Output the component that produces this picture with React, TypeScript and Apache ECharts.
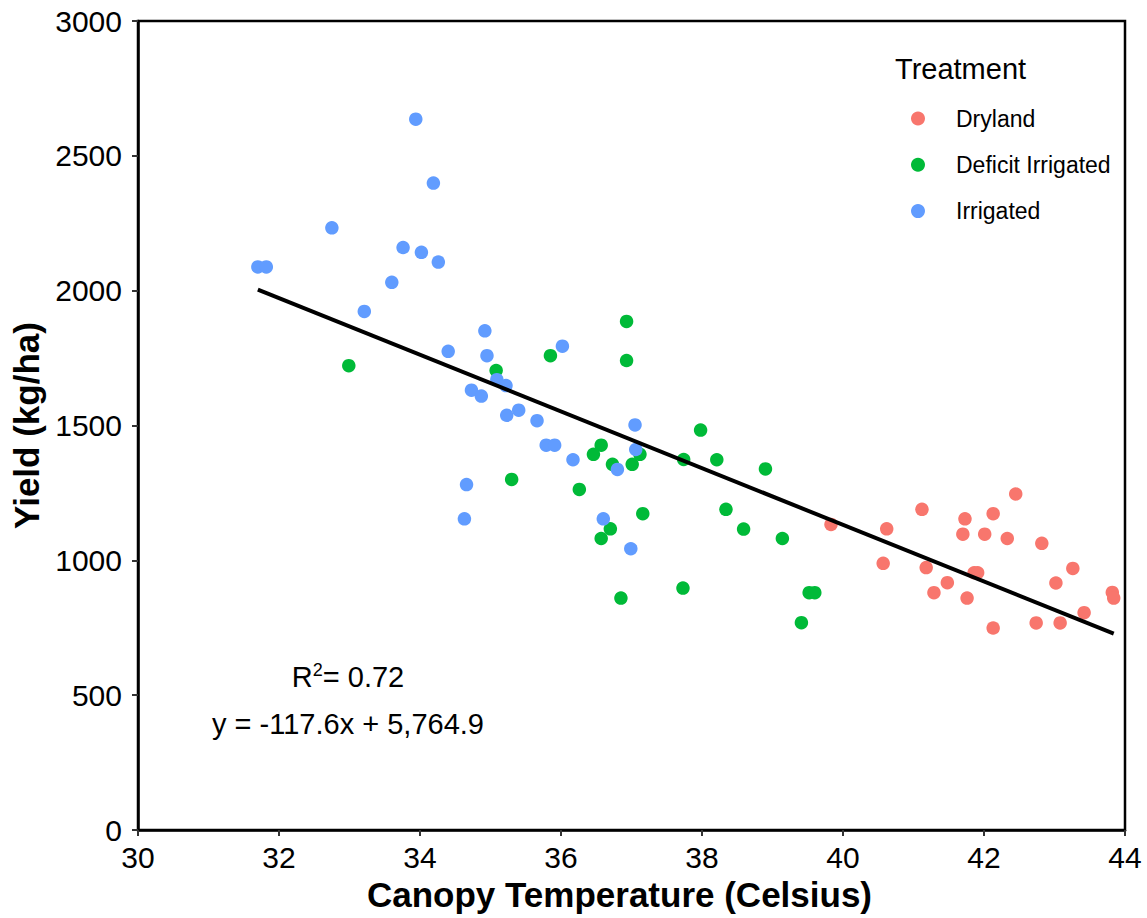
import React, { useEffect, useRef } from "react";
import * as echarts from "echarts";

const seriesNames = ["Dryland", "Deficit Irrigated", "Irrigated"];
const seriesColors = ["#F8766D", "#00BA38", "#619CFF"];

const drylandX = [39.83, 40.62, 40.57, 41.12, 41.18, 41.48, 41.29, 41.73, 41.7, 42.01, 42.13, 42.45, 42.33, 42.82, 41.86, 41.91, 41.76, 42.13, 42.74, 43.08, 43.02, 43.26, 43.42, 43.82, 43.84];
const drylandY = [1133, 1117, 989, 1189, 973, 917, 880, 1154, 1097, 1097, 1173, 1246, 1081, 1063, 954, 954, 860, 749, 768, 768, 916, 970, 806, 881, 860];

const deficitX = [32.99, 35.08, 35.85, 36.93, 36.93, 35.3, 36.57, 36.46, 36.73, 37.01, 37.12, 37.98, 37.74, 38.21, 36.26, 37.16, 36.7, 36.57, 37.73, 36.85, 38.9, 38.34, 38.59, 39.14, 39.52, 39.6, 39.41];
const deficitY = [1722, 1704, 1759, 1886, 1741, 1300, 1427, 1393, 1356, 1356, 1393, 1483, 1374, 1373, 1263, 1173, 1117, 1081, 897, 860, 1339, 1189, 1116, 1081, 880, 880, 769];

const irrigatedX = [31.7, 31.82, 32.75, 33.94, 34.19, 33.76, 34.02, 34.26, 33.6, 33.21, 34.4, 34.92, 34.95, 35.09, 35.22, 34.73, 34.87, 35.4, 35.23, 35.66, 35.79, 35.91, 36.17, 34.66, 34.63, 36.02, 37.05, 37.06, 36.8, 36.6, 36.99];
const irrigatedY = [2088, 2088, 2233, 2636, 2399, 2160, 2142, 2106, 2031, 1923, 1775, 1851, 1759, 1670, 1648, 1631, 1609, 1557, 1538, 1518, 1427, 1427, 1373, 1281, 1154, 1794, 1502, 1411, 1337, 1154, 1043];

const fitX = [31.7, 43.84];
const fitY = [2004, 728];

const xTicks = [30, 32, 34, 36, 38, 40, 42, 44];
const yTicks = [0, 500, 1000, 1500, 2000, 2500, 3000];

const r2Label = "0.72";
const equationLabel = "y = -117.6x + 5,764.9";

const FONT = "Liberation Sans, Arial, sans-serif";

function zip(xs: number[], ys: number[]) {
  return xs.map((x, i) => [x, ys[i]]);
}

export default function App() {
  const ref = useRef<HTMLDivElement>(null);

  useEffect(() => {
    if (!ref.current) return;
    const chart = echarts.init(ref.current, null, { renderer: "svg" });
    const allData = [zip(drylandX, drylandY), zip(deficitX, deficitY), zip(irrigatedX, irrigatedY)];
    chart.setOption({
      animation: false,
      backgroundColor: "#ffffff",
      textStyle: { fontFamily: FONT },
      grid: {
        left: 138,
        right: 22,
        top: 21,
        bottom: 88,
        show: true,
        borderColor: "#000000",
        borderWidth: 2.5,
        backgroundColor: "transparent",
        containLabel: false,
        outerBoundsMode: "none",
      },
      xAxis: {
        type: "value",
        min: xTicks[0],
        max: xTicks[xTicks.length - 1],
        interval: 2,
        name: "Canopy Temperature (Celsius)",
        nameLocation: "middle",
        nameGap: 42,
        nameTextStyle: { fontSize: 35, fontWeight: "bold", color: "#000", fontFamily: FONT, padding: [0, 24, 0, 0] },
        axisLine: { show: true, lineStyle: { color: "#000", width: 2.5 } },
        axisTick: { show: true, length: 6, lineStyle: { color: "#333", width: 2 } },
        axisLabel: { fontSize: 30, color: "#000", margin: 12, fontFamily: FONT, formatter: (v: number) => String(v) },
        splitLine: { show: false },
      },
      yAxis: {
        type: "value",
        min: yTicks[0],
        max: yTicks[yTicks.length - 1],
        interval: 500,
        name: "Yield (kg/ha)",
        nameLocation: "middle",
        nameGap: 94,
        nameTextStyle: { fontSize: 35, fontWeight: "bold", color: "#000", fontFamily: FONT },
        axisLine: { show: true, lineStyle: { color: "#000", width: 2.5 } },
        axisTick: { show: true, length: 6, lineStyle: { color: "#333", width: 2 } },
        axisLabel: { fontSize: 30, color: "#000", margin: 16, fontFamily: FONT, formatter: (v: number) => String(v) },
        splitLine: { show: false },
      },
      legend: {
        data: seriesNames,
        orient: "vertical",
        left: 906,
        top: 102,
        icon: "circle",
        itemWidth: 14,
        itemHeight: 14,
        itemGap: 23.3,
        textStyle: { fontSize: 23, color: "#000", padding: [0, 0, 0, 26], lineHeight: 20, fontFamily: FONT },
      },
      graphic: [
        {
          type: "text",
          left: 895,
          top: 54,
          style: { text: "Treatment", fontSize: 29, fill: "#000", fontFamily: FONT },
        },
        {
          type: "text",
          x: 348,
          y: 676,
          style: {
            text: "{a|R}{s|2}{a|= " + r2Label + "}",
            align: "center",
            verticalAlign: "middle",
            rich: {
              a: { fontSize: 29, fill: "#000", fontFamily: FONT, lineHeight: 30, verticalAlign: "bottom" },
              s: { fontSize: 18, fill: "#000", fontFamily: FONT, lineHeight: 30, verticalAlign: "top", padding: [0, 0, 10, 0] },
            },
          },
        },
        {
          type: "text",
          x: 348,
          y: 724,
          style: {
            text: equationLabel,
            align: "center",
            verticalAlign: "middle",
            fontSize: 29,
            fill: "#000",
            fontFamily: FONT,
          },
        },
      ],
      series: [
        ...seriesNames.map((name, i) => ({
          name,
          type: "scatter",
          data: allData[i],
          symbol: "circle",
          symbolSize: 13.5,
          itemStyle: { color: seriesColors[i], opacity: 1 },
          z: 2,
        })),
        {
          name: "fit",
          type: "line",
          data: zip(fitX, fitY),
          showSymbol: false,
          symbol: "none",
          lineStyle: { color: "#000", width: 4 },
          z: 5,
        },
      ],
    });
    return () => chart.dispose();
  }, []);

  return <div ref={ref} style={{ width: 1147, height: 918, position: "absolute", left: 0, top: 0 }} />;
}
